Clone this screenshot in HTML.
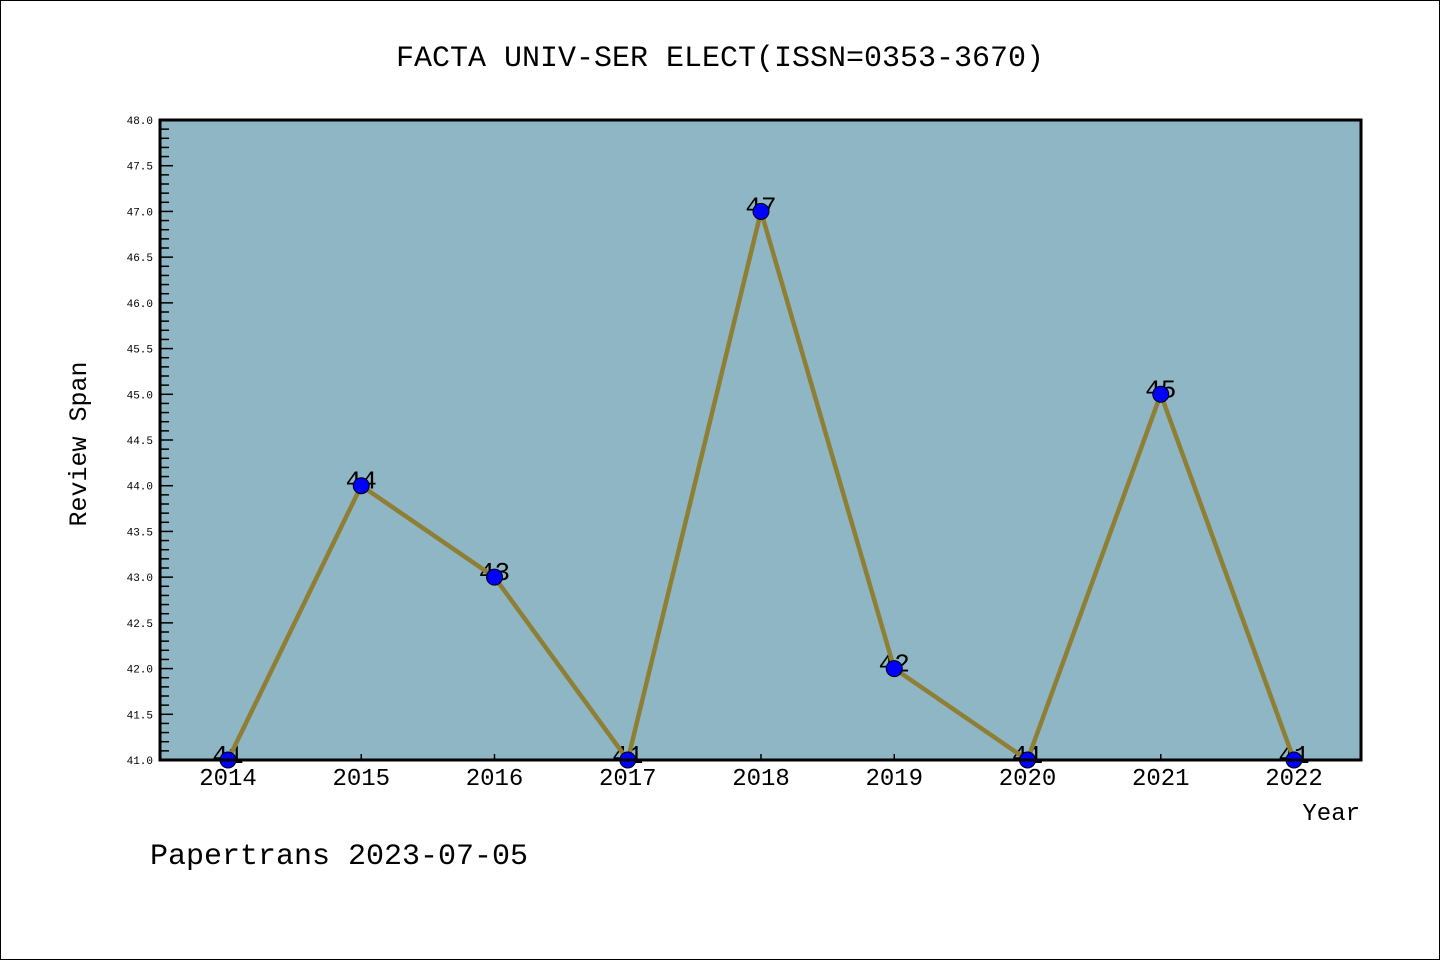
<!DOCTYPE html>
<html><head><meta charset="utf-8"><style>
html,body{margin:0;padding:0;background:#fff}
svg{display:block}
text{font-family:"Liberation Mono","DejaVu Sans Mono",monospace}
</style></head><body>
<svg width="1440" height="960" viewBox="0 0 1440 960">
<rect x="0.5" y="0.5" width="1439" height="959" fill="#fff" stroke="#000"/>
<text x="720" y="66" font-size="30" text-anchor="middle">FACTA UNIV-SER ELECT(ISSN=0353-3670)</text>
<rect x="160" y="120" width="1201" height="640" fill="#8fb6c4"/>
<g id="yaxis"></g>
<g id="xaxis"></g>
<g id="labels"></g>
<g id="series"></g>
<rect x="160" y="120" width="1201" height="640" fill="none" stroke="#000" stroke-width="3"/>
<text x="86" y="444" font-size="25" text-anchor="middle" transform="rotate(-90 86 444)">Review Span</text>
<text x="1360" y="820" font-size="24" text-anchor="end">Year</text>
<text x="150" y="864" font-size="30">Papertrans 2023-07-05</text>
</svg>
<script>
const years = [2014,2015,2016,2017,2018,2019,2020,2021,2022];
const values = [41,44,43,41,47,42,41,45,41];
const yTickLabels = ["41.0","41.5","42.0","42.5","43.0","43.5","44.0","44.5","45.0","45.5","46.0","46.5","47.0","47.5","48.0"];
const NS="http://www.w3.org/2000/svg";
const yMin=41,yMax=48,plotTop=120,plotBot=760;
const sx=i=>228+i*(1294-228)/(years.length-1);
const sy=v=>plotBot-(v-yMin)/(yMax-yMin)*(plotBot-plotTop);
function mk(tag,attrs,parent){const e=document.createElementNS(NS,tag);for(const k in attrs)e.setAttribute(k,attrs[k]);parent.appendChild(e);return e;}
const ya=document.getElementById('yaxis'),xa=document.getElementById('xaxis'),lb=document.getElementById('labels'),se=document.getElementById('series');
for(let k=0;k<=70;k++){const v=yMin+k*0.1;const y=sy(v);const major=k%5===0;
 const t=mk('line',{x1:160,x2:major?173:169,y1:y,y2:y,stroke:'#000','stroke-width':1.5},ya);
 
 }
yTickLabels.forEach(s=>{const v=parseFloat(s);const t=mk('text',{x:153,y:sy(v)+4,'font-size':11,'text-anchor':'end'},ya);t.textContent=s;
 
 });
years.forEach((yr,i)=>{const x=sx(i);
 const t=mk('line',{x1:x,x2:x,y1:plotBot,y2:plotBot-6,stroke:'#000','stroke-width':1.5},xa);
 
 
 const l=mk('text',{x:x,y:785,'font-size':24,'text-anchor':'middle'},xa);l.textContent=yr;
 
 
 const v=mk('text',{x:x,y:sy(values[i])+3,'font-size':26,'text-anchor':'middle'},lb);v.textContent=values[i];
 
 });
const pts=values.map((v,i)=>sx(i)+','+sy(v)).join(' ');
const pl=mk('polyline',{points:pts,fill:'none',stroke:'#8f7f35','stroke-width':4.5,'stroke-linejoin':'round'},se);


values.forEach((v,i)=>{const c=mk('circle',{cx:sx(i),cy:sy(v),r:8,fill:'#0000ff',stroke:'#000','stroke-width':1},se);
 
 });
</script>
</body></html>
